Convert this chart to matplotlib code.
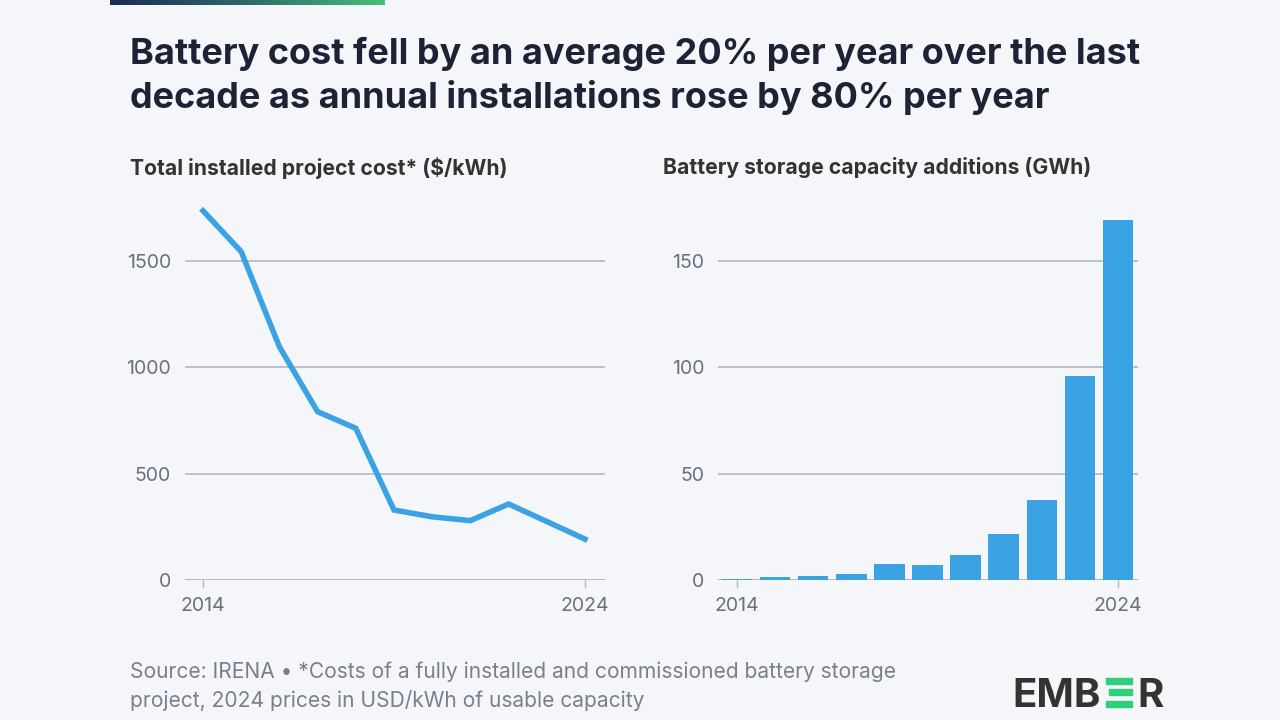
import numpy as np
import matplotlib.pyplot as plt
from matplotlib.colors import LinearSegmentedColormap
from matplotlib.patches import Rectangle

plt.rcParams['font.family'] = ['Inter', 'DejaVu Sans']

# data
years = [2014, 2015, 2016, 2017, 2018, 2019, 2020, 2021, 2022, 2023, 2024]
cost = [1735, 1543, 1096, 791, 713, 329, 297, 279, 357, 275, 192]
capacity = [0.6, 1.6, 2.0, 3.0, 7.5, 6.9, 11.9, 21.8, 37.6, 96, 169]

cost_ticks = [0, 500, 1000, 1500]
cap_ticks = [0, 50, 100, 150]

bg = '#f4f6fa'
blue = '#3ba3e3'
grid = '#b4b7c2'
tick_col = '#6b7080'

W, H = 1280, 720
fig = plt.figure(figsize=(12.8, 7.2), dpi=100, facecolor=bg)

# gradient strip at the top
strip = fig.add_axes([110 / W, 1 - 5 / H, 275 / W, 5 / H])
cmap = LinearSegmentedColormap.from_list('ember', ['#1d2a55', '#2f6a6a', '#46c07a'])
strip.imshow(np.linspace(0, 1, 256).reshape(1, -1), aspect='auto', cmap=cmap)
strip.axis('off')

fig.text(130 / W, 1 - 76 / H,
         'Battery cost fell by an average 20% per year over the last\n'
         'decade as annual installations rose by 80% per year',
         fontsize=26, fontweight='bold', color='#1e2235', va='center',
         linespacing=1.33)

fig.text(130 / W, 1 - 168 / H, 'Total installed project cost* ($/kWh)',
         fontsize=15.2, fontweight='bold', color='#333333', va='center')
fig.text(663 / W, 1 - 168 / H, 'Battery storage capacity additions (GWh)',
         fontsize=15.2, fontweight='bold', color='#333333', va='center')


def style(ax, ticks):
    ax.set_facecolor(bg)
    for s in ax.spines.values():
        s.set_visible(False)
    ax.set_yticks(ticks)
    ax.set_yticklabels([str(t) for t in ticks])
    ax.set_xticks([years[0], years[-1]])
    ax.set_xticklabels([str(years[0]), str(years[-1])])
    ax.tick_params(axis='y', length=0, pad=10, labelsize=14, labelcolor=tick_col)
    ax.tick_params(axis='x', length=6, width=1, color=grid, pad=6,
                   labelsize=14, labelcolor=tick_col)
    ax.grid(axis='y', color=grid, linewidth=1.2)
    ax.set_axisbelow(True)
    ax.axhline(0, color=grid, linewidth=2, zorder=1)


# left: cost line
ax1 = fig.add_axes([185 / W, (H - 580) / H, 420 / W, 383 / H])
style(ax1, cost_ticks)
ax1.plot(years, cost, color=blue, linewidth=4, solid_joinstyle='miter', zorder=3)
ax1.set_xlim(2014 - 18 / 38.2, 2024 + 20 / 38.2)
ax1.set_ylim(0, 383 / 0.2128)

# right: capacity bars
ax2 = fig.add_axes([718 / W, (H - 580) / H, 420 / W, 383 / H])
style(ax2, cap_ticks)
ax2.bar(years, capacity, width=0.8, color=blue, zorder=3)
ax2.set_xlim(2014 - 19 / 38.1, 2024 + 20 / 38.1)
ax2.set_ylim(0, 383 / 2.128)

fig.text(130 / W, 1 - 686 / H,
         'Source: IRENA \u2022 *Costs of a fully installed and commissioned battery storage\n'
         'project, 2024 prices in USD/kWh of usable capacity',
         fontsize=15.1, color='#7a7f8e', va='center', linespacing=1.45)

# logo: EMB + green three-bar E + R
fig.text(1012 / W, 1 - 707 / H, 'EMB', fontsize=29, fontweight='bold',
         color='#333333', va='baseline')
fig.text(1164 / W, 1 - 707 / H, 'R', fontsize=29, fontweight='bold',
         color='#333333', va='baseline', ha='right')
for top, x0, w in [(678, 1106, 26), (689, 1109, 23), (701, 1106, 26)]:
    fig.patches.append(Rectangle((x0 / W, 1 - (top + 6) / H), w / W, 6 / H,
                                 transform=fig.transFigure, color='#2fce7a'))

fig.savefig('out.png', dpi=100, facecolor=bg)
